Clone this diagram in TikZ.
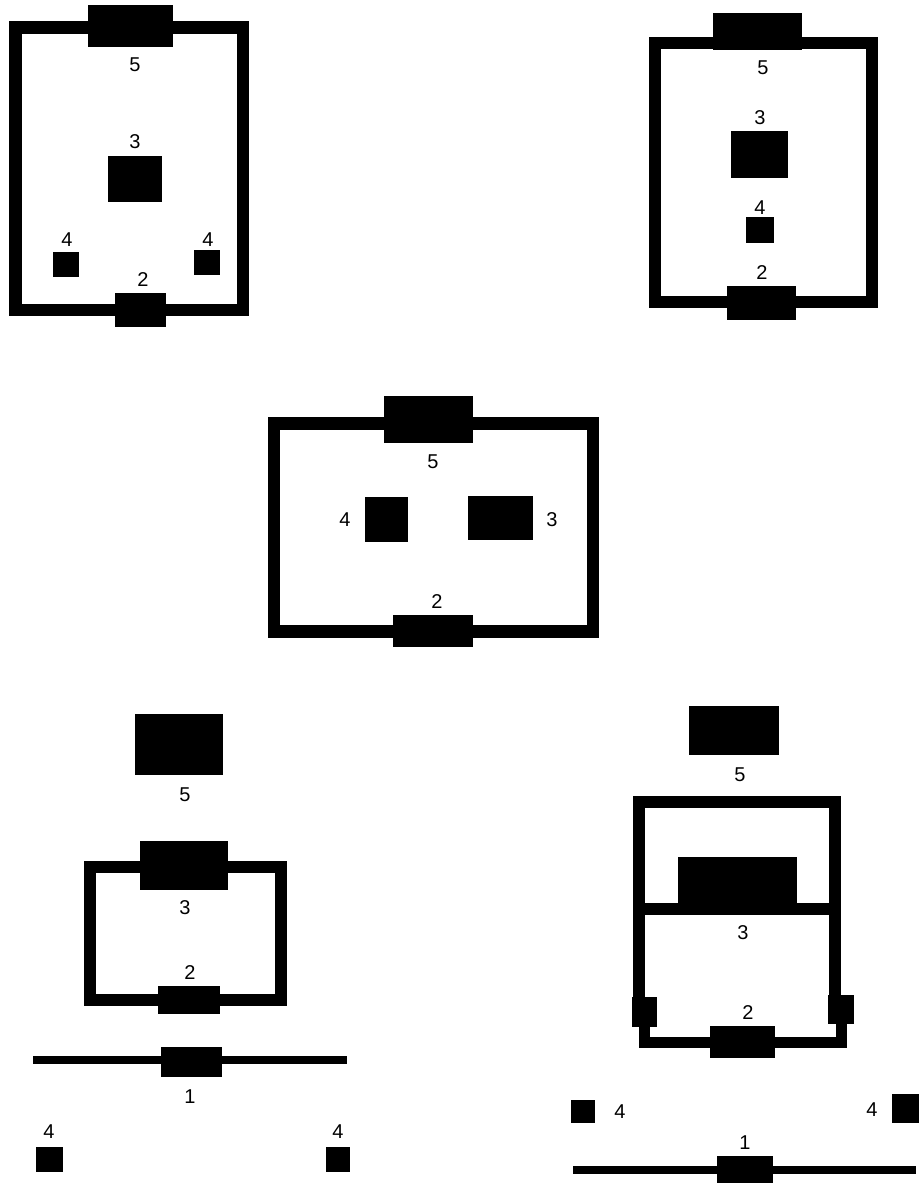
\documentclass[tikz,border=0pt]{standalone}
\usepackage{fontspec}
\setmainfont{Liberation Sans}
\begin{document}
\begin{tikzpicture}[x=1pt,y=-1pt,
  blk/.style={fill=black,draw=none,inner sep=0pt},
  frame/.style={draw=black,line width=12.5pt,line join=miter,line cap=rect},
  wire/.style={draw=black,line width=8pt},
  lbl/.style={inner sep=0pt,font=\fontsize{20}{20}\selectfont}]
\useasboundingbox (0,0) rectangle (919,1183);
% ---------- Panel 1 ----------
\coordinate (a1) at (15.5,27.5); \coordinate (a2) at (243,310);
\draw[frame] (a1) rectangle (a2);
\node[blk,minimum width=85pt,minimum height=42pt] (p1b5) at (130.5,26) {};
\node[blk,minimum width=54pt,minimum height=46pt] (p1b3) at (135,179) {};
\node[blk,minimum width=26pt,minimum height=25pt] (p1b4l) at (66,264.5) {};
\node[blk,minimum width=26pt,minimum height=25pt] (p1b4r) at (207,262.5) {};
\node[blk,minimum width=51pt,minimum height=34pt] (p1b2) at (140.5,310) {};
\node[lbl] (p1l5) at (135,65) {5};
\node[lbl] (p1l3) at (135,142) {3};
\node[lbl] (p1l4a) at (67,240) {4};
\node[lbl] (p1l4b) at (208,240) {4};
\node[lbl] (p1l2) at (143,280) {2};
% ---------- Panel 2 ----------
\coordinate (b1) at (655,43); \coordinate (b2) at (872,302);
\draw[frame] (b1) rectangle (b2);
\node[blk,minimum width=89pt,minimum height=37pt] (p2b5) at (757.5,31.5) {};
\node[blk,minimum width=57pt,minimum height=47pt] (p2b3) at (759.5,154.5) {};
\node[blk,minimum width=28pt,minimum height=26pt] (p2b4) at (760,230) {};
\node[blk,minimum width=69pt,minimum height=34pt] (p2b2) at (761.5,303) {};
\node[lbl] (p2l5) at (763,68) {5};
\node[lbl] (p2l3) at (760,118) {3};
\node[lbl] (p2l4) at (760,208) {4};
\node[lbl] (p2l2) at (762,273) {2};
% ---------- Panel 3 ----------
\coordinate (c1) at (274,423.5); \coordinate (c2) at (593,631.5);
\draw[frame] (c1) rectangle (c2);
\node[blk,minimum width=89pt,minimum height=47pt] (p3b5) at (428.5,419.5) {};
\node[blk,minimum width=43pt,minimum height=45pt] (p3b4) at (386.5,519.5) {};
\node[blk,minimum width=65pt,minimum height=44pt] (p3b3) at (500.5,518) {};
\node[blk,minimum width=80pt,minimum height=32pt] (p3b2) at (433,631) {};
\node[lbl] (p3l5) at (433,462) {5};
\node[lbl] (p3l4) at (345,520) {4};
\node[lbl] (p3l3) at (552,520) {3};
\node[lbl] (p3l2) at (437,602) {2};
% ---------- Panel 4 ----------
\coordinate (d1) at (90,867); \coordinate (d2) at (281,1000);
\draw[frame] (d1) rectangle (d2);
\coordinate (d3) at (33,1060); \coordinate (d4) at (347,1060);
\draw[wire] (d3) -- (d4);
\node[blk,minimum width=88pt,minimum height=61pt] (p4b5) at (179,744.5) {};
\node[blk,minimum width=88pt,minimum height=49pt] (p4b3) at (184,865.5) {};
\node[blk,minimum width=62pt,minimum height=28pt] (p4b2) at (189,1000) {};
\node[blk,minimum width=61pt,minimum height=30pt] (p4b1) at (191.5,1062) {};
\node[blk,minimum width=27pt,minimum height=25pt] (p4b4l) at (49.5,1159.5) {};
\node[blk,minimum width=24pt,minimum height=25pt] (p4b4r) at (338,1159.5) {};
\node[lbl] (p4l5) at (185,795) {5};
\node[lbl] (p4l3) at (185,908) {3};
\node[lbl] (p4l2) at (190,973) {2};
\node[lbl] (p4l1) at (190,1097) {1};
\node[lbl] (p4l4a) at (49,1132) {4};
\node[lbl] (p4l4b) at (338,1132) {4};
% ---------- Panel 5 ----------
\node[blk,minimum width=25pt,minimum height=30pt] (sqL) at (644.5,1012) {};
\node[blk,minimum width=26pt,minimum height=29pt] (sqR) at (841,1009.5) {};
\coordinate (e1) at (639,802); \coordinate (e2) at (835,802);
\coordinate (e3) at (639,909); \coordinate (e4) at (835,909);
\draw[frame] (sqL.north -| e1) -- (e1) -- (e2) -- (sqR.north -| e2);
\draw[frame,line cap=butt] (e3) -- (e4);
\coordinate (e5) at (644.5,1042); \coordinate (e6) at (841,1042);
\draw[frame,line width=11pt] (sqL.center) -- (e5) -- (e6) -- (sqR.center);
\fill (sqL.north west) rectangle (sqL.south east);
\fill (sqR.north west) rectangle (sqR.south east);
\coordinate (e7) at (573,1170); \coordinate (e8) at (916,1170);
\draw[wire] (e7) -- (e8);
\node[blk,minimum width=90pt,minimum height=49pt] (p5b5) at (734,730.5) {};
\node[blk,minimum width=119pt,minimum height=53pt] (p5b3) at (737.5,883.5) {};
\node[blk,minimum width=65pt,minimum height=32pt] (p5b2) at (742.5,1042) {};
\node[blk,minimum width=24pt,minimum height=23pt] (p5b4l) at (583,1111.5) {};
\node[blk,minimum width=27pt,minimum height=29pt] (p5b4r) at (905.5,1108.5) {};
\node[blk,minimum width=56pt,minimum height=27pt] (p5b1) at (745,1169.5) {};
\node[lbl] (p5l5) at (740,775) {5};
\node[lbl] (p5l3) at (743,933) {3};
\node[lbl] (p5l2) at (748,1013) {2};
\node[lbl] (p5l4a) at (620,1112) {4};
\node[lbl] (p5l4b) at (872,1110) {4};
\node[lbl] (p5l1) at (745,1143) {1};
\end{tikzpicture}
\end{document}
